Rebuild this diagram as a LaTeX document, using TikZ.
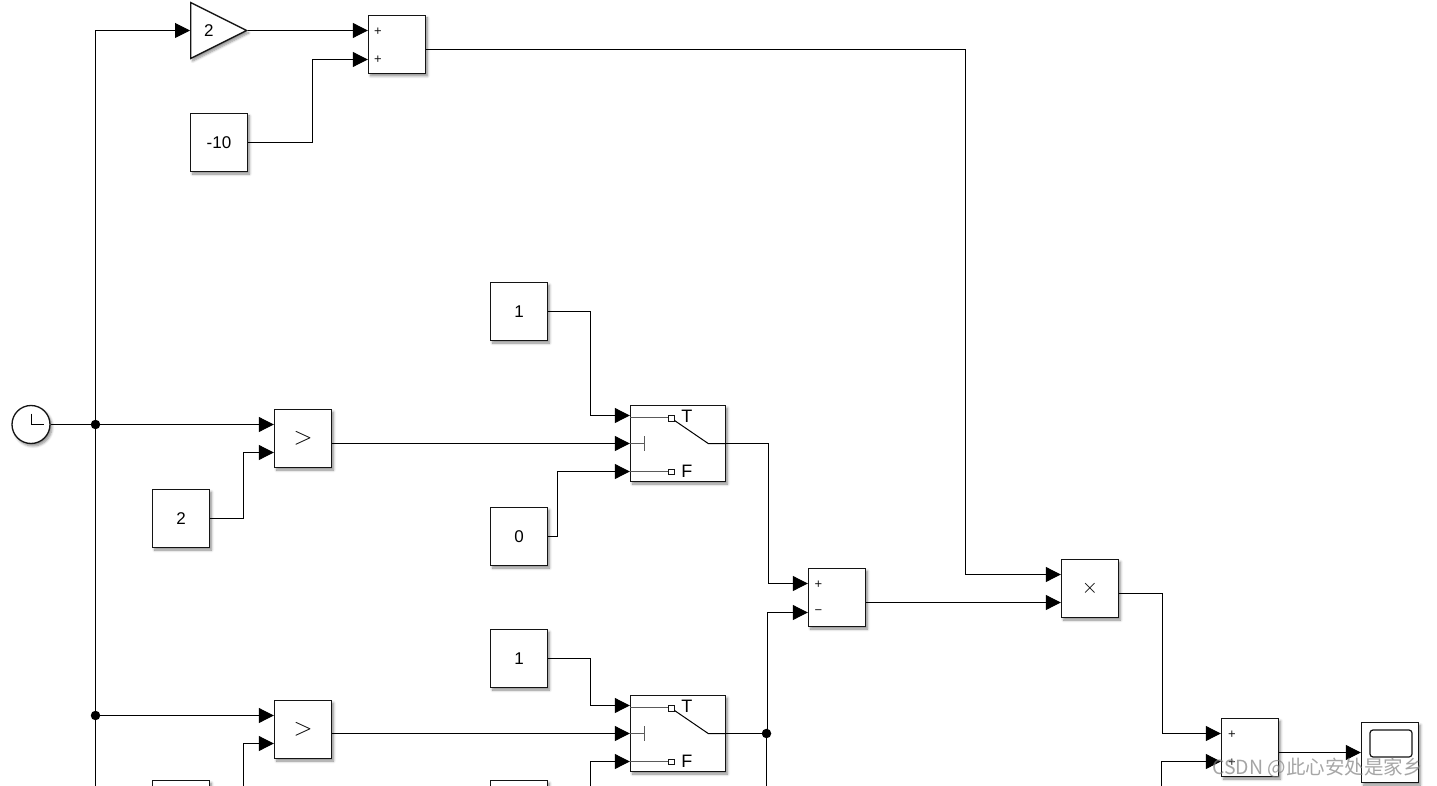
\documentclass[tikz,border=0pt]{standalone}
\usepackage{fontspec}
\usepackage{xcolor}
\setmainfont{Liberation Sans}
\newfontfamily\cjk{Noto Sans CJK SC}
\usetikzlibrary{shapes.geometric, arrows.meta, calc, shadows.blur}
\definecolor{dark}{RGB}{20, 20, 20}
\definecolor{portgray}{RGB}{90, 90, 90}
\tikzset{
    softshadow/.style={blur shadow={shadow xshift=2pt, shadow yshift=-2.5pt, shadow blur steps=6, shadow blur radius=2.5pt, shadow opacity=45}},
    blk/.style={rectangle, draw=dark, line width=1.4pt, fill=white, inner sep=0pt, softshadow, font=\fontsize{17}{18}\selectfont},
    sumblock/.style={blk, minimum width=57pt, minimum height=58pt},
    switchblock/.style={blk, minimum width=95pt, minimum height=76pt},
    gainblock/.style={isosceles triangle, isosceles triangle apex angle=53.13, isosceles triangle stretches, draw=dark, line width=1.3pt, fill=white, inner sep=0pt, minimum width=56pt, minimum height=56pt, softshadow, font=\fontsize{17}{18}\selectfont},
    clockblock/.style={circle, draw=dark, line width=1.3pt, fill=white, inner sep=0pt, minimum size=38pt, softshadow},
    arr/.style={-{Triangle[length=15pt, width=15pt]}, line width=1pt, black},
    wire/.style={line width=1pt, black},
    dot/.style={circle, fill=black, inner sep=0pt, minimum size=9.5pt},
    sign/.style={font=\fontsize{13}{14}\selectfont, inner sep=0pt, text=dark},
    inner/.style={line width=1pt, portgray},
    contact/.style={rectangle, draw=dark, line width=0.7pt, fill=white, inner sep=0pt, minimum size=5.5pt},
    letter/.style={font=\fontsize{18}{20}\selectfont, inner sep=0pt}
}
% one switch with its inner symbol
\newcommand{\switchsym}[1]{
    \draw[inner] ([yshift=-12.5pt]#1.north west)--++(39,0);
    \draw[inner] (#1.west)--++(14,0);
    \draw[inner] ([xshift=14.5pt,yshift=7.5pt]#1.west)--++(0,15);
    \draw[inner] ([yshift=11pt]#1.south west)--++(39,0);
    \node[contact] (#1t) at ([xshift=41.5pt,yshift=-13.5pt]#1.north west) {};
    \node[contact] (#1f) at ([xshift=41.5pt,yshift=10.5pt]#1.south west) {};
    \node[letter] (#1tl) at ([xshift=57pt,yshift=-12pt]#1.north west) {T};
    \node[letter] (#1fl) at ([xshift=57pt,yshift=11pt]#1.south west) {F};
    \draw[wire] (#1t)--([xshift=-18pt]#1.east)--(#1.east);
}
\begin{document}
\begin{tikzpicture}[x=1pt, y=-1pt]
    \useasboundingbox (0,0) rectangle (1437,786);
    \clip (0,0) rectangle (1437,786);

    \node[clockblock] (clock) at (31,424.5) {};
    \node[dot] (tap1) at (95.5,424.5) {};
    \node[dot] (tap2) at (95.5,715.5) {};
    \coordinate (busend) at (95.5,790);
    \coordinate (bustop) at (95.5,30.5);

    \node[gainblock, anchor=lower side] (gain) at (190,30.5) {\hspace*{4pt}2};
    \node[sumblock] (offset) at (219,142.5) {-10};
    \node[sumblock] (add1) at (397,44.5) {};

    \node[sumblock] (comp1) at (303,438.5) {\fontsize{25}{26}\selectfont $>$};
    \node[sumblock] (comp2) at (303,729.5) {\fontsize{25}{26}\selectfont $>$};
    \node[sumblock] (thr1) at (181,518.5) {2};
    \node[sumblock] (thr2) at (181,809.5) {};

    \node[sumblock] (one1) at (519,311.5) {1};
    \node[sumblock] (zero1) at (519,536.5) {0};
    \node[sumblock] (one2) at (519,658.5) {1};
    \node[sumblock] (zero2) at (519,809.5) {};
    \node[switchblock] (sw1) at (678,443.5) {};
    \node[switchblock] (sw2) at (678,733.5) {};
    \switchsym{sw1}
    \switchsym{sw2}

    \node[sumblock] (add2) at (837,597.5) {};
    \node[sumblock] (prod) at (1090,588.5) {\fontsize{22}{24}\selectfont $\times$};
    \node[sumblock] (add3) at (1250,747.5) {};
    \node[blk, minimum width=57pt, minimum height=60pt] (scope) at (1390,752.5) {};
    \node[draw=dark, line width=1.2pt, rounded corners=3pt, inner sep=0pt, minimum width=42pt, minimum height=27pt] (screen) at (1391,743.5) {};
    \node[dot] (tap3) at (766.5,733.5) {};
    \coordinate (tap3end) at (766.5,790);
    \coordinate (add3low) at (1161.5,790);

    % port signs
    \node[sign] (s1) at ([xshift=10pt,yshift=13pt]add1.west) {+};
    \node[sign] (s2) at ([xshift=10pt,yshift=-15.5pt]add1.west) {+};
    \node[sign] (s3) at ([xshift=10.5pt,yshift=13pt]add2.west) {+};
    \node[sign] (s4) at ([xshift=10.5pt,yshift=-15pt]add2.west) {\textminus};
    \node[sign] (s5) at ([xshift=11pt,yshift=13pt]add3.west) {+};
    \node[sign] (s6) at ([xshift=11pt,yshift=-15pt]add3.west) {+};

    % clock face
    \draw[wire] ([yshift=11pt]clock.center)--(clock.center)--++(13,0);

    \draw[wire] (clock)--(tap1);
    \draw[wire] (bustop)--(busend);
    \draw[arr] (bustop)--(gain.lower side);
    \draw[arr] (gain.apex)--(gain.apex-|add1.west);
    \draw[arr] (offset.east)--++(64,0)|-([yshift=-15pt]add1.west);
    \draw[arr] (tap1)--(tap1-|comp1.west);
    \draw[arr] (tap2)--(tap2-|comp2.west);
    \draw[arr] (thr1.east)--++(33,0)|-([yshift=-14pt]comp1.west);
    \draw[arr] (thr2.east)--++(33,0)|-([yshift=-14pt]comp2.west);
    \draw[arr] ([yshift=-5pt]comp1.east)--(sw1.west);
    \draw[arr] ([yshift=-4pt]comp2.east)--(sw2.west);
    \draw[arr] (one1.east)--++(42,0)|-([yshift=28pt]sw1.west);
    \draw[arr] (zero1.east)--++(9,0)|-([yshift=-28pt]sw1.west);
    \draw[arr] (one2.east)--++(42,0)|-([yshift=28pt]sw2.west);
    \draw[arr] (zero2.east)--++(42,0)|-([yshift=-28pt]sw2.west);
    \draw[arr] (sw1.east)--++(42,0)|-([yshift=14pt]add2.west);
    \draw[wire] (sw2.east)--(tap3);
    \draw[arr] ($(tap3)+(1,0)$)|-([yshift=-15pt]add2.west);
    \draw[wire] (tap3)--(tap3end);
    \draw[arr] ([yshift=-5pt]add1.east)-|([xshift=-95pt,yshift=14pt]prod.west)--([yshift=14pt]prod.west);
    \draw[arr] ([yshift=-5pt]add2.east)--([yshift=-14pt]prod.west);
    \draw[arr] ([yshift=-5pt]prod.east)--++(43,0)|-([yshift=14pt]add3.west);
    \draw[arr] (add3low)|-([yshift=-14pt]add3.west);
    \draw[arr] ([yshift=-5pt]add3.east)--(scope.west);

    \node[font=\cjk\fontsize{19.5}{21}\selectfont, text=gray, text opacity=0.7, inner sep=0pt] (mark) at (1317.5,767.5) {CSDN @此心安处是家乡};
\end{tikzpicture}
\end{document}
